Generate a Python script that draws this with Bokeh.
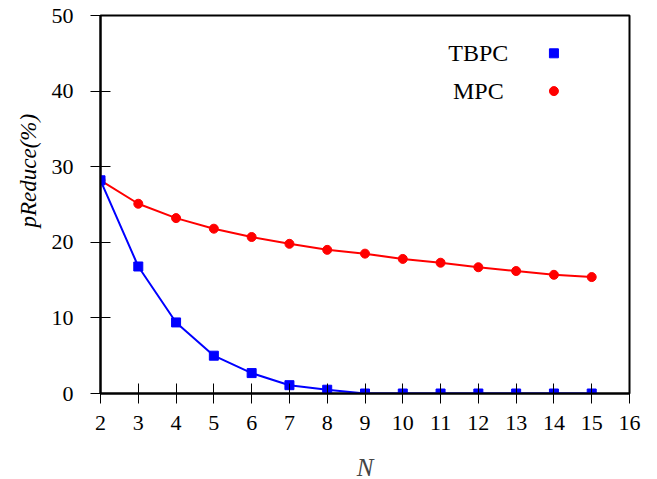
import math
from bokeh.plotting import figure
from bokeh.models import Range1d, FixedTicker, Title
from bokeh.core.properties import value
from bokeh.embed import file_html
from bokeh.resources import INLINE

N_vals = [2, 3, 4, 5, 6, 7, 8, 9, 10, 11, 12, 13, 14, 15]
tbpc = [28.2, 16.8, 9.4, 5.0, 2.7, 1.1, 0.5, 0.0, 0.0, 0.0, 0.0, 0.0, 0.0, 0.0]
mpc = [28.2, 25.1, 23.2, 21.8, 20.7, 19.8, 19.0, 18.5, 17.8, 17.3, 16.7, 16.2, 15.7, 15.4]
x_ticks = list(range(2, 17))
y_ticks = [0, 10, 20, 30, 40, 50]

FONT = "Liberation Serif"
FS = "22px"

p = figure(frame_width=529, frame_height=378, output_backend="svg", toolbar_location=None,
           x_range=Range1d(2, 16), y_range=Range1d(0, 50),
           min_border_left=100, min_border_top=15, min_border_right=20, min_border_bottom=84)
p.grid.visible = False
p.outline_line_color = "black"
p.outline_line_width = 2
p.background_fill_color = "white"
p.border_fill_color = "white"

for ax in (p.xaxis[0], p.yaxis[0]):
    ax.axis_line_width = 2
    ax.major_tick_in = 10
    ax.major_tick_out = 10
    ax.major_tick_line_width = 1
    ax.minor_tick_line_color = None
    ax.major_label_text_font = FONT
    ax.major_label_text_font_size = FS
    ax.major_label_text_color = "black"
p.xaxis[0].major_label_standoff = 12
p.yaxis[0].major_label_standoff = 17
p.xaxis[0].ticker = FixedTicker(ticks=x_ticks)
p.yaxis[0].ticker = FixedTicker(ticks=y_ticks)

p.xaxis[0].axis_label = "N"
p.xaxis[0].axis_label_text_font = FONT
p.xaxis[0].axis_label_text_font_style = "italic"
p.xaxis[0].axis_label_text_font_size = "25px"
p.xaxis[0].axis_label_standoff = 21

ytitle = Title(text="pReduce(%)", align="left", offset=166, standoff=16,
               text_font=FONT, text_font_style="italic", text_font_size="23px",
               text_color="black")
p.add_layout(ytitle, "left")

p.line(N_vals, mpc, line_color="#ff0000", line_width=2)
p.scatter(N_vals, mpc, marker="circle", size=9, fill_color="#ff0000", line_color="#ff0000")
p.line(N_vals, tbpc, line_color="#0000ff", line_width=2)
p.scatter(N_vals, tbpc, marker="square", size=9, fill_color="#0000ff", line_color="#0000ff")

# legend
p.text(x=[12, 12], y=[45, 40], text=["TBPC", "MPC"], text_align="center", text_baseline="middle",
       text_font=value(FONT), text_font_size="24px", text_color="black")
p.scatter(x=[14], y=[45], marker="square", size=9, fill_color="#0000ff", line_color="#0000ff")
p.scatter(x=[14], y=[40], marker="circle", size=9, fill_color="#ff0000", line_color="#ff0000")

open("out.html", "w").write(file_html(p, INLINE))
